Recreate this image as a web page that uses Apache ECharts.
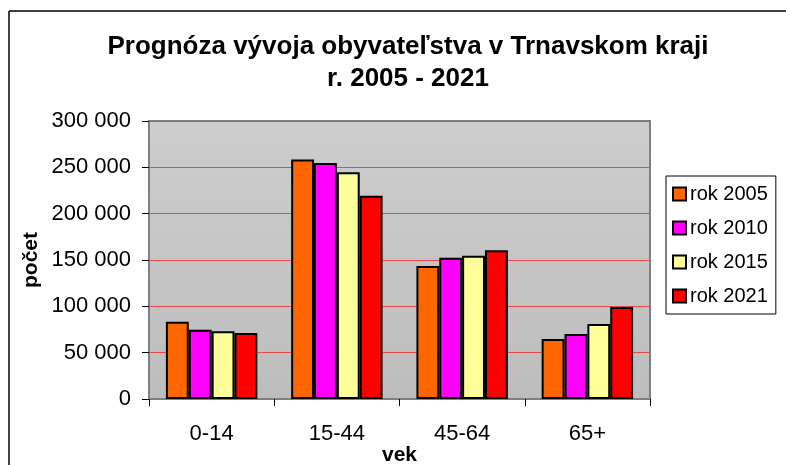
<!DOCTYPE html>
<html>
<head>
<meta charset="utf-8">
<script src="https://cdn.jsdelivr.net/npm/echarts@6/dist/echarts.min.js"></script>
<style>
  html, body { margin: 0; padding: 0; background: #fff; }
  #chart-wrapper { width: 786px; height: 465px; }
</style>
</head>
<body>
<div id="chart-wrapper"></div>
<script>
const categories = ["0-14", "15-44", "45-64", "65+"];
const rok2005 = [83400, 258500, 143500, 64700];
const rok2010 = [74800, 254700, 152500, 70100];
const rok2015 = [73000, 244600, 154600, 80900];
const rok2021 = [71200, 219400, 160400, 99300];
const seriesNames = ["rok 2005", "rok 2010", "rok 2015", "rok 2021"];
const colorList = ["#ff6600", "#ff00ff", "#ffff99", "#ff0000"];

const FONT = "'Liberation Sans', Arial, sans-serif";

const chartDom = document.getElementById("chart-wrapper");
const chart = echarts.init(chartDom);

const makeSeries = (name, values, i) => ({
  name: name,
  type: "bar",
  data: values,
  barGap: "0%",
  barCategoryGap: "27%",
  itemStyle: {
    color: colorList[i],
    borderColor: "#000",
    borderWidth: 2,
  },
  emphasis: { disabled: true },
});

const option = {
  animation: false,
  backgroundColor: "#fff",
  textStyle: { fontFamily: FONT },
  title: {
    text: "Prognóza vývoja obyvateľstva v Trnavskom kraji\nr. 2005 - 2021",
    left: 403,
    top: 26,
    textAlign: "center",
    textStyle: {
      fontFamily: FONT,
      fontSize: 26,
      fontWeight: "bold",
      color: "#000",
      lineHeight: 32,
    },
  },
  legend: {
    orient: "vertical",
    left: 666,
    top: 176,
    width: 119,
    padding: [8, 8, 8, 6],
    itemGap: 14,
    itemWidth: 13,
    itemHeight: 13,
    icon: "rect",
    borderColor: "#000",
    borderWidth: 1,
    backgroundColor: "#fff",
    selectedMode: false,
    data: seriesNames,
    itemStyle: { borderColor: "#000", borderWidth: 2 },
    textStyle: {
      fontFamily: FONT,
      fontSize: 20,
      color: "#000",
      padding: [0, 0, 0, -1],
      lineHeight: 20,
    },
  },
  grid: {
    left: 149,
    right: 136,
    top: 121,
    bottom: 66,
    outerBoundsMode: "none",
    containLabel: false,
    show: true,
    borderColor: "#808080",
    borderWidth: 2,
    backgroundColor: {
      type: "linear",
      x: 0, y: 0, x2: 0, y2: 1,
      colorStops: [
        { offset: 0, color: "#cdcdcd" },
        { offset: 1, color: "#bdbdbd" },
      ],
    },
  },
  xAxis: {
    type: "category",
    data: categories,
    name: "vek",
    nameLocation: "middle",
    nameGap: 46,
    nameMoveOverlap: false,
    nameTextStyle: {
      fontFamily: FONT,
      fontSize: 21,
      fontWeight: "bold",
      color: "#000",
    },
    axisLine: { show: true, lineStyle: { color: "#808080", width: 2 } },
    axisTick: {
      show: true,
      alignWithLabel: false,
      length: 7,
      lineStyle: { color: "#000", width: 1 },
    },
    axisLabel: {
      fontFamily: FONT,
      fontSize: 22,
      color: "#000",
      margin: 24,
    },
  },
  yAxis: {
    type: "value",
    min: 0,
    max: 300000,
    interval: 50000,
    name: "počet",
    nameLocation: "middle",
    nameGap: 107,
    nameMoveOverlap: false,
    nameTextStyle: {
      fontFamily: FONT,
      fontSize: 21,
      fontWeight: "bold",
      color: "#000",
    },
    axisLine: { show: true, lineStyle: { color: "#808080", width: 2 } },
    axisTick: {
      show: true,
      length: 7,
      lineStyle: { color: "#000", width: 1 },
    },
    splitLine: {
      show: true,
      lineStyle: { color: "#e44a4a", width: 1 },
    },
    axisLabel: {
      fontFamily: FONT,
      fontSize: 22,
      color: "#000",
      margin: 18,
      formatter: function (v) {
        return String(v).replace(/\B(?=(\d{3})+(?!\d))/g, " ");
      },
    },
  },
  graphic: [
    {
      type: "line",
      shape: { x1: 9, y1: 11, x2: 786, y2: 11 },
      style: { stroke: "#000", lineWidth: 1.5 },
      silent: true,
    },
    {
      type: "line",
      shape: { x1: 9, y1: 11, x2: 9, y2: 465 },
      style: { stroke: "#000", lineWidth: 1.5 },
      silent: true,
    },
  ],
  series: [
    makeSeries(seriesNames[0], rok2005, 0),
    makeSeries(seriesNames[1], rok2010, 1),
    makeSeries(seriesNames[2], rok2015, 2),
    makeSeries(seriesNames[3], rok2021, 3),
  ],
};

chart.setOption(option);
</script>
</body>
</html>
